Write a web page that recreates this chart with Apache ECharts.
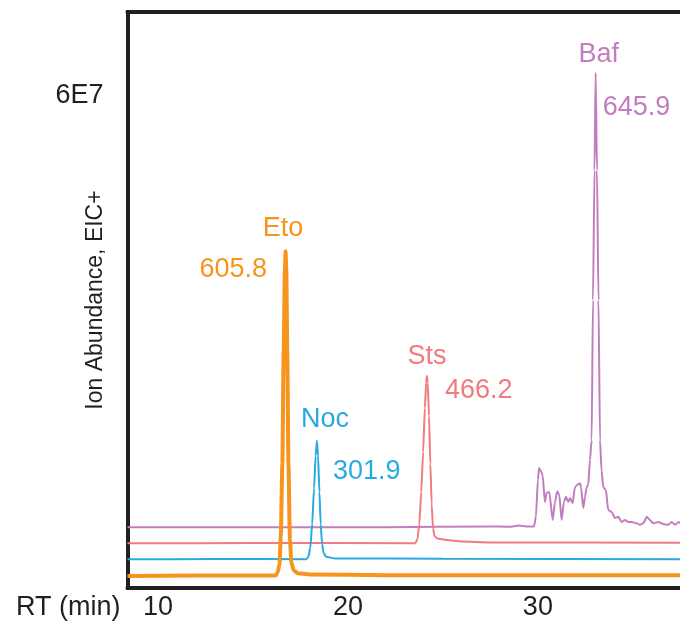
<!DOCTYPE html>
<html>
<head>
<meta charset="utf-8">
<title>EIC chromatogram</title>
<script src="https://cdn.jsdelivr.net/npm/echarts@6/dist/echarts.min.js"></script>
<style>
  html, body { margin: 0; padding: 0; background: #fff; }
  #chart { width: 680px; height: 625px; }
</style>
</head>
<body>
<div id="chart"></div>
<script>
// retention time (min) vs ion abundance (in units of 1E6), each trace offset a little
var etoTrace = [[8.4,0],[12,0.05],[16.2,0.05],[16.3,0.4],[16.4,1.5],[16.47,5],[16.55,14],[16.62,28],[16.68,38],[16.72,40.6],[16.76,38],[16.81,28],[16.87,14],[16.95,4.5],[17.03,1.6],[17.15,0.7],[17.35,0.35],[18,0.2],[22,0.1],[30,0.1],[37.5,0.1]];
var nocTrace = [[8.4,2.09],[13,2.12],[17.8,2.1],[17.92,2.4],[18.02,3.5],[18.12,6.5],[18.22,11],[18.3,15],[18.37,16.9],[18.43,15],[18.5,10.5],[18.57,6.5],[18.64,4],[18.72,2.9],[18.85,2.4],[19.3,2.2],[25,2.15],[37.5,2.1]];
var stsTrace = [[8.4,4.09],[15,4.12],[23.55,4.1],[23.66,4.6],[23.76,6.5],[23.86,10.5],[23.96,15.5],[24.05,21],[24.12,24.2],[24.16,25],[24.2,24.2],[24.27,20],[24.34,14],[24.41,9],[24.48,6],[24.56,5],[24.7,4.7],[25.2,4.5],[26,4.3],[27.5,4.2],[37.5,4.15]];
var bafTrace = [[8.4,6.09],[15,6.1],[22,6.1],[27.5,6.2],[28.5,6.15],[29.0,6.3],[29.4,6.2],[29.8,6.2],[29.9,7.5],[30.0,12],[30.06,13.5],[30.2,12.9],[30.25,12.6],[30.37,9.25],[30.46,10.4],[30.6,10.5],[30.78,7.0],[30.9,9.25],[31.02,10.6],[31.13,10.1],[31.25,7.0],[31.37,9.25],[31.48,9.9],[31.6,9.25],[31.69,9.75],[31.83,9.1],[31.95,11.1],[32.07,11.4],[32.22,11.6],[32.27,11.1],[32.39,8.5],[32.48,9.9],[32.57,11.1],[32.65,11.4],[32.74,14.5],[32.83,17],[32.9,34.5],[32.98,50.7],[33.04,62.9],[33.11,50.7],[33.19,34.5],[33.27,17],[33.35,13.2],[33.44,11.1],[33.58,10.75],[33.7,8.25],[33.88,8.0],[34.06,7.25],[34.23,7.4],[34.41,6.75],[34.58,7.0],[34.76,6.75],[34.94,6.75],[35.2,6.6],[35.37,6.4],[35.55,6.6],[35.73,7.4],[35.9,7.0],[36.07,6.6],[36.34,6.75],[36.6,6.5],[36.86,6.4],[37.04,6.75],[37.22,6.4],[37.4,6.75],[37.5,6.6]];

var peakNames = ['Baf', 'Sts', 'Noc', 'Eto'];
var peakMz = ['645.9', '466.2', '301.9', '605.8'];
var traces = [bafTrace, stsTrace, nocTrace, etoTrace];
var colors = ['#c27dc0', '#f37a80', '#29a9e0', '#f7941e'];
var widths = [2, 2, 2, 4];

var xTicks = [10, 20, 30];
var yTicks = [60];
var yTickLabels = ['6E7'];

// label placement relative to each peak top (px)
var nameOffsets = [[3, -18], [0, -19], [8, -21], [-2.5, -23]];
var mzOffsets = [[7, 35], [18, 15], [16, 31], [-18.5, 18]];
var mzAlign = ['left', 'left', 'left', 'right'];

var font = 'Liberation Sans, Arial, Helvetica, sans-serif';
var ink = '#231f20';
var fs = 27;

function peakOf(trace) {
  var top = trace[0];
  trace.forEach(function (p) { if (p[1] > top[1]) top = p; });
  return top;
}

var series = traces.map(function (tr, i) {
  var top = peakOf(tr);
  var lbl = { show: true, position: 'inside', color: colors[i], fontSize: fs, fontFamily: font };
  return {
    name: peakNames[i],
    type: 'line',
    data: tr,
    symbol: 'none',
    smooth: 0.2,
    smoothMonotone: 'x',
    lineStyle: { color: colors[i], width: widths[i] },
    markPoint: {
      symbol: 'circle',
      symbolSize: 1,
      silent: true,
      itemStyle: { color: 'rgba(0,0,0,0)' },
      data: [
        { coord: top, label: Object.assign({}, lbl, { formatter: peakNames[i], offset: nameOffsets[i] }) },
        { coord: top, label: Object.assign({}, lbl, { formatter: peakMz[i], offset: mzOffsets[i], align: mzAlign[i] }) }
      ]
    }
  };
});

var chart = echarts.init(document.getElementById('chart'));
chart.setOption({
  animation: false,
  grid: { left: 127.5, right: 0, top: 12, bottom: 37, containLabel: false, outerBoundsMode: 'none' },
  xAxis: [{
    type: 'value', min: 8.4, max: 37.48,
    axisLine: { onZero: false, lineStyle: { color: ink, width: 4 } },
    axisTick: { show: false },
    splitLine: { show: false },
    axisLabel: { customValues: xTicks, margin: 6, fontSize: fs, color: ink, fontFamily: font },
    name: 'RT (min)', nameLocation: 'start', nameGap: 7, nameMoveOverlap: false,
    nameTextStyle: { fontSize: fs, color: ink, fontFamily: font, verticalAlign: 'top', padding: [6, 0, 0, 0] }
  }, {
    type: 'value', min: 8.4, max: 37.48, position: 'top',
    axisLine: { onZero: false, lineStyle: { color: ink, width: 4 } },
    axisTick: { show: false },
    axisLabel: { show: false },
    splitLine: { show: false }
  }],
  yAxis: {
    type: 'value', min: -1.5, max: 70.5,
    axisLine: { show: true, onZero: false, lineStyle: { color: ink, width: 4, cap: 'square' } },
    axisTick: { show: false },
    splitLine: { show: false },
    axisLabel: {
      customValues: yTicks, margin: 24, fontSize: fs, color: ink, fontFamily: font,
      formatter: function (v) { return yTickLabels[yTicks.indexOf(v)]; }
    },
    name: 'Ion Abundance, EIC+', nameLocation: 'middle', nameGap: 20, nameMoveOverlap: false,
    nameTextStyle: { fontSize: 23, color: ink, fontFamily: font }
  },
  series: series
});
</script>
</body>
</html>
